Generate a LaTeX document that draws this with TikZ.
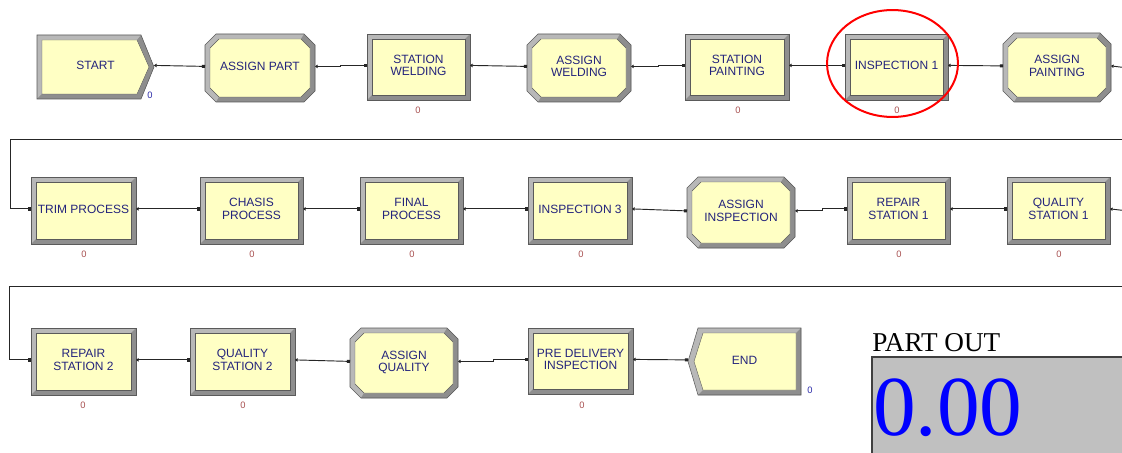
\documentclass[tikz,border=0pt]{standalone}
\usepackage{fontspec}
\setmainfont{Liberation Sans}
\newfontfamily\dispfont{Liberation Serif}
\usetikzlibrary{arrows.meta}

\definecolor{modfill}{HTML}{FFFFC4}
\definecolor{bevlight}{HTML}{B8B8B8}
\definecolor{bevdark}{HTML}{8E8E8E}
\definecolor{modline}{HTML}{5A5A5A}
\definecolor{modtext}{HTML}{24247C}
\definecolor{cntred}{HTML}{A85050}
\definecolor{cntblue}{HTML}{2A2AA8}
\definecolor{dispgray}{HTML}{C0C0C0}

\newcommand\bw{5}
\newcommand\ch{11}
\newcommand\ci{9}

% rectangular module: name, x1, y1, x2, y2, label
\newcommand\procmod[6]{%
  \fill[bevlight] (#2,#3) rectangle (#4,#5);
  \fill[bevdark] (#4,#3) -- (#4,#5) -- (#2,#5) -- ({#2+\bw},{#5-\bw})
     -- ({#4-\bw},{#5-\bw}) -- ({#4-\bw},{#3+\bw}) -- cycle;
  \filldraw[fill=modfill,draw=modline,line width=0.3pt]
     ({#2+\bw},{#3+\bw}) rectangle ({#4-\bw},{#5-\bw});
  \draw[modline,line width=0.4pt] (#2,#3) rectangle (#4,#5);
  \node[modlabel,minimum width={(#4-#2)*0.75pt},minimum height={(#5-#3)*0.75pt}]
     (#1) at ({(#2+#4)/2},{(#3+#5)/2}) {#6};
}

% octagonal assign module: name, x1, y1, x2, y2, label
\newcommand\asgmod[6]{%
  \fill[bevlight] ({#2+\ch},#3) -- ({#4-\ch},#3) -- (#4,{#3+\ch}) -- (#4,{#5-\ch})
     -- ({#4-\ch},#5) -- ({#2+\ch},#5) -- (#2,{#5-\ch}) -- (#2,{#3+\ch}) -- cycle;
  \fill[bevdark] ({#4-\ch},#3) -- (#4,{#3+\ch}) -- (#4,{#5-\ch}) -- ({#4-\ch},#5)
     -- ({#2+\ch},#5) -- ({#2+\bw+\ci},{#5-\bw}) -- ({#4-\bw-\ci},{#5-\bw})
     -- ({#4-\bw},{#5-\bw-\ci}) -- ({#4-\bw},{#3+\bw+\ci}) -- ({#4-\bw-\ci},{#3+\bw}) -- cycle;
  \filldraw[fill=modfill,draw=modline,line width=0.3pt]
     ({#2+\bw+\ci},{#3+\bw}) -- ({#4-\bw-\ci},{#3+\bw}) -- ({#4-\bw},{#3+\bw+\ci})
     -- ({#4-\bw},{#5-\bw-\ci}) -- ({#4-\bw-\ci},{#5-\bw}) -- ({#2+\bw+\ci},{#5-\bw})
     -- ({#2+\bw},{#5-\bw-\ci}) -- ({#2+\bw},{#3+\bw+\ci}) -- cycle;
  \draw[modline,line width=0.4pt] ({#2+\ch},#3) -- ({#4-\ch},#3) -- (#4,{#3+\ch}) -- (#4,{#5-\ch})
     -- ({#4-\ch},#5) -- ({#2+\ch},#5) -- (#2,{#5-\ch}) -- (#2,{#3+\ch}) -- cycle;
  \node[modlabel,minimum width={(#4-#2)*0.75pt},minimum height={(#5-#3)*0.75pt}]
     (#1) at ({(#2+#4)/2},{(#3+#5)/2}) {#6};
}

\tikzset{
  modlabel/.style={inner sep=0pt,outer sep=0pt,align=center,text=modtext,
    font=\fontsize{9}{9.6}\selectfont,text depth=0pt,yshift=1.2pt},
  counter/.style={inner sep=0pt,text=cntred,font=\fontsize{7}{7}\selectfont},
  counterb/.style={counter,text=cntblue},
  exittip/.tip={Triangle[length=1.9pt,width=2.6pt]},
  entrytip/.tip={Square[length=2.3pt,width=2.3pt]},
  conn/.style={draw=black!85,line width=0.7pt,arrows={exittip-entrytip}},
  connout/.style={draw=black!85,line width=0.7pt,arrows={exittip-}},
  connin/.style={draw=black!85,line width=0.7pt,arrows={-entrytip}},
}

\begin{document}
\begin{tikzpicture}[x=0.75pt,y=-0.75pt]
\useasboundingbox (0,0) rectangle (1122,453);
\fill[white] (0,0) rectangle (1122,453);

% ---- row 1 ----
% create module (arrow pointing right)
\fill[bevlight] (37,35) -- (141,35) -- (154,67) -- (141,99) -- (37,99) -- cycle;
\fill[bevdark] (141,35) -- (154,67) -- (141,99) -- (37,99) -- (42,94) -- (137,94) -- (149,67) -- (137,40) -- cycle;
\filldraw[fill=modfill,draw=modline,line width=0.3pt] (42,40) -- (137,40) -- (149,67) -- (137,94) -- (42,94) -- cycle;
\draw[modline,line width=0.4pt] (37,35) -- (141,35) -- (154,67) -- (141,99) -- (37,99) -- cycle;
\node[modlabel,minimum width={117*0.75pt},minimum height={64*0.75pt}] (start) at (95.5,67) {START};
\node[counterb] (cstart) at (150,95) {0};

\asgmod{asgpart}{205}{34}{315}{102}{ASSIGN PART}
\procmod{stweld}{367}{34}{470}{100}{STATION\\WELDING}
\node[counter] (cstweld) at (418,110) {0};
\asgmod{asgweld}{527}{34}{631}{102}{ASSIGN\\WELDING}
\procmod{stpaint}{685}{34}{789}{100}{STATION\\PAINTING}
\node[counter] (cstpaint) at (738,110) {0};
\procmod{insp1}{845}{34}{948}{100}{INSPECTION 1}
\node[counter] (cinsp1) at (897,110) {0};
\asgmod{asgpaint}{1003}{33}{1111}{102}{ASSIGN\\PAINTING}

% ---- row 2 ----
\procmod{trim}{31}{177}{136}{244}{TRIM PROCESS}
\node[counter] (ctrim) at (84,254) {0};
\procmod{chasis}{200}{177}{303}{244}{CHASIS\\PROCESS}
\node[counter] (cchasis) at (252,254) {0};
\procmod{final}{360}{177}{463}{244}{FINAL\\PROCESS}
\node[counter] (cfinal) at (412,254) {0};
\procmod{insp3}{528}{177}{632}{244}{INSPECTION 3}
\node[counter] (cinsp3) at (581,254) {0};
\asgmod{asginsp}{687}{177}{795}{248}{ASSIGN\\INSPECTION}
\procmod{rep1}{847}{177}{950}{244}{REPAIR\\STATION 1}
\node[counter] (crep1) at (899,254) {0};
\procmod{qual1}{1007}{177}{1110}{244}{QUALITY\\STATION 1}
\node[counter] (cqual1) at (1059,254) {0};

% ---- row 3 ----
\procmod{rep2}{31}{328}{136}{395}{REPAIR\\STATION 2}
\node[counter] (crep2) at (83,405) {0};
\procmod{qual2}{190}{328}{295}{395}{QUALITY\\STATION 2}
\node[counter] (cqual2) at (243,405) {0};
\asgmod{asgqual}{350}{328}{458}{398}{ASSIGN\\QUALITY}
\procmod{predel}{528}{328}{633}{394}{PRE DELIVERY\\INSPECTION}
\node[counter] (cpredel) at (582,405) {0};
% dispose module (arrow pointing left)
\fill[bevlight] (698,328) -- (801,328) -- (801,395) -- (698,395) -- (688,361.5) -- cycle;
\fill[bevdark] (801,328) -- (801,395) -- (698,395) -- (703,390) -- (796,390) -- (796,333) -- cycle;
\filldraw[fill=modfill,draw=modline,line width=0.3pt] (703,333) -- (796,333) -- (796,390) -- (703,390) -- (694,361.5) -- cycle;
\draw[modline,line width=0.4pt] (698,328) -- (801,328) -- (801,395) -- (698,395) -- (688,361.5) -- cycle;
\node[modlabel,minimum width={113*0.75pt},minimum height={67*0.75pt}] (end) at (744.5,361.5) {END};
\node[counterb] (cend) at (810,390) {0};

% ---- connectors ----
\draw[conn] (start.east) -- (asgpart.west);
\draw[conn] (asgpart.east) -- ++(25,0) |- (stweld.west);
\draw[conn] (stweld.east) -- (asgweld.west);
\draw[conn] (asgweld.east) -- ++(27,0) |- (stpaint.west);
\draw[conn] (stpaint.east) -- (insp1.west);
\draw[conn] (insp1.east) -- (asgpaint.west);
\coordinate (wrap1a) at (1124,67.5);
\coordinate (wrap1b) at (1124,139.5);
\draw[connout] (asgpaint.east) -- (wrap1a);
\draw[connin] (wrap1b) -- (10,139.5) |- (trim.west);

\draw[conn] (trim.east) -- (chasis.west);
\draw[conn] (chasis.east) -- (final.west);
\draw[conn] (final.east) -- (insp3.west);
\draw[conn] (insp3.east) -- (asginsp.west);
\draw[conn] (asginsp.east) -- ++(27,0) |- (rep1.west);
\draw[conn] (rep1.east) -- (qual1.west);
\coordinate (wrap2a) at (1124,210.5);
\coordinate (wrap2b) at (1124,286);
\draw[connout] (qual1.east) -- (wrap2a);
\draw[connin] (wrap2b) -- (9.5,286) |- (rep2.west);

\draw[conn] (rep2.east) -- (qual2.west);
\draw[conn] (qual2.east) -- (asgqual.west);
\draw[conn] (asgqual.east) -- ++(35,0) |- (predel.west);
\draw[conn] (predel.east) -- (end.west);

% ---- highlight ----
\draw[red,line width=1.5pt] (892.5,63.5) ellipse [x radius=49.1pt,y radius=40.1pt];

% ---- counter display ----
\node[anchor=base west,inner sep=0pt,font=\dispfont\fontsize{20.4}{20.4}\selectfont] (partlbl) at (872,351) {PART OUT};
\fill[dispgray] (872,357) rectangle (1126,456);
\draw[black!75,line width=1pt] (872,456) -- (872,357) -- (1126,357);
\node[anchor=base west,inner sep=0pt,text=blue,font=\dispfont\fontsize{64}{64}\selectfont] (partval) at (873,435) {0.00};
\end{tikzpicture}
\end{document}
